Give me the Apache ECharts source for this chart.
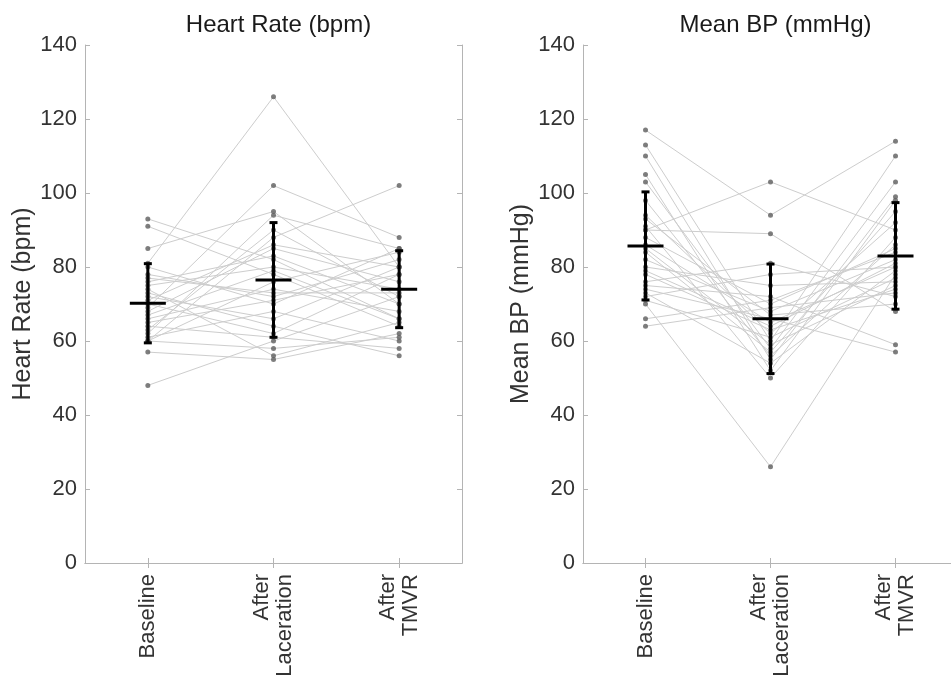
<!DOCTYPE html>
<html>
<head>
<meta charset="utf-8">
<script src="https://cdn.jsdelivr.net/npm/echarts@6/dist/echarts.min.js"></script>
<style>
html,body{margin:0;padding:0;background:#fff;overflow:hidden;}
#chart{width:980px;height:681px;}
</style>
</head>
<body>
<div id="chart"></div>
<script>
// ---- data ----
const categories = ['Baseline', 'After\nLaceration', 'After\nTMVR'];
const yTicks = [0, 20, 40, 60, 80, 100, 120, 140];

// Heart rate (bpm), one entry per subject
const hrBaseline   = [81, 69, 60, 93, 91, 85, 48, 57, 60, 62, 80, 78, 75, 72, 70, 68, 66, 64, 63, 61, 60, 73, 76, 65, 67, 74, 71, 77];
const hrLaceration = [126, 102, 88, 82, 78, 95, 60, 55, 58, 94, 70, 72, 80, 66, 62, 85, 74, 61, 90, 68, 76, 64, 83, 71, 79, 56, 86, 73];
const hrTMVR       = [80, 88, 102, 66, 64, 70, 72, 62, 61, 85, 85, 82, 74, 80, 78, 76, 68, 58, 72, 60, 84, 56, 70, 78, 66, 65, 80, 73];
const hrMean = [70.2, 76.5, 74.0];
const hrSD   = [10.7, 15.5, 10.4];

// Mean BP (mmHg), one entry per subject
const mbpBaseline   = [117, 90, 90, 70, 113, 110, 105, 103, 94, 91, 88, 86, 84, 82, 80, 78, 76, 75, 74, 73, 72, 71, 66, 64, 98, 93, 85, 79];
const mbpLaceration = [94, 103, 89, 26, 60, 55, 52, 58, 62, 50, 70, 65, 57, 68, 75, 63, 81, 72, 66, 54, 78, 61, 71, 69, 56, 67, 59, 64];
const mbpTMVR       = [114, 90, 68, 78, 110, 99, 98, 103, 92, 88, 85, 80, 95, 82, 76, 74, 72, 59, 57, 79, 80, 77, 84, 73, 86, 70, 75, 81];
const mbpMean = [85.7, 66.0, 83.0];
const mbpSD   = [14.6, 14.8, 14.4];

// ---- chart ----
const FONT = 'Liberation Sans, Arial, Helvetica, sans-serif';
const AXIS_COLOR = '#b4b4b4';
const TEXT_COLOR = '#333333';

const panels = [
  {title: 'Heart Rate (bpm)', yName: 'Heart Rate (bpm)', cols: [hrBaseline, hrLaceration, hrTMVR], mean: hrMean, sd: hrSD, left: 85, width: 377},
  {title: 'Mean BP (mmHg)',   yName: 'Mean BP (mmHg)',   cols: [mbpBaseline, mbpLaceration, mbpTMVR], mean: mbpMean, sd: mbpSD, left: 583, width: 375}
];

const grid = [], xAxis = [], yAxis = [], series = [], title = [];

panels.forEach((p, gi) => {
  grid.push({left: p.left, width: p.width, top: 45, height: 518, containLabel: false});
  title.push({
    text: p.title, left: p.left + p.width / 2, top: 8, textAlign: 'center',
    textStyle: {fontFamily: FONT, fontSize: 24, fontWeight: 'normal', color: '#1a1a1a'}
  });
  const xb = {
    type: 'category', gridIndex: gi, data: categories, boundaryGap: true, position: 'bottom',
    axisLine: {show: true, lineStyle: {color: AXIS_COLOR, width: 1}},
    axisTick: {show: true, inside: true, length: 5, alignWithLabel: true, lineStyle: {color: AXIS_COLOR}},
    axisLabel: {show: true, rotate: 90, margin: 11, fontFamily: FONT, fontSize: 22, color: TEXT_COLOR, lineHeight: 23, interval: 0},
    splitLine: {show: false}
  };
  const xt = Object.assign({}, xb, {position: 'top', axisLabel: {show: false}});
  xAxis.push(xb, xt);
  const yl = {
    type: 'value', gridIndex: gi, min: yTicks[0], max: yTicks[yTicks.length - 1], interval: 20, position: 'left',
    name: p.yName, nameLocation: 'middle', nameGap: 49, nameRotate: 90,
    nameTextStyle: {fontFamily: FONT, fontSize: 25, color: TEXT_COLOR},
    axisLine: {show: true, lineStyle: {color: AXIS_COLOR, width: 1}},
    axisTick: {show: true, inside: true, length: 5, lineStyle: {color: AXIS_COLOR}},
    axisLabel: {show: true, margin: 8, fontFamily: FONT, fontSize: 22, color: TEXT_COLOR},
    splitLine: {show: false}
  };
  const yr = Object.assign({}, yl, {position: 'right', name: '', axisLabel: {show: false}});
  yAxis.push(yl, yr);

  const xi = gi * 2, yi = gi * 2;
  const n = p.cols[0].length;
  for (let s = 0; s < n; s++) {
    series.push({
      type: 'line', xAxisIndex: xi, yAxisIndex: yi, silent: true, symbol: 'none',
      data: [p.cols[0][s], p.cols[1][s], p.cols[2][s]],
      lineStyle: {color: '#cdcdcd', width: 1}, z: 1, animation: false
    });
  }
  const pts = [];
  p.cols.forEach((col, ci) => col.forEach(v => pts.push([ci, v])));
  series.push({
    type: 'scatter', xAxisIndex: xi, yAxisIndex: yi, silent: true, symbol: 'circle', symbolSize: 5,
    itemStyle: {color: '#5e5e5e'}, data: pts, z: 2, animation: false
  });
  series.push({
    type: 'custom', xAxisIndex: xi, yAxisIndex: yi, silent: true, z: 3, animation: false,
    data: p.mean.map((m, ci) => [ci, m, p.sd[ci]]),
    renderItem: function (params, api) {
      const c = api.value(0), m = api.value(1), s = api.value(2);
      const top = api.coord([c, m + s]);
      const bot = api.coord([c, m - s]);
      const mid = api.coord([c, m]);
      const st = {stroke: '#000', lineWidth: 3};
      return {
        type: 'group',
        children: [
          {type: 'line', shape: {x1: top[0], y1: top[1], x2: bot[0], y2: bot[1]}, style: st},
          {type: 'line', shape: {x1: top[0] - 4, y1: top[1], x2: top[0] + 4, y2: top[1]}, style: st},
          {type: 'line', shape: {x1: bot[0] - 4, y1: bot[1], x2: bot[0] + 4, y2: bot[1]}, style: st},
          {type: 'line', shape: {x1: mid[0] - 18, y1: mid[1], x2: mid[0] + 18, y2: mid[1]}, style: st}
        ]
      };
    }
  });
});

const chart = echarts.init(document.getElementById('chart'), null, {renderer: 'canvas'});
chart.setOption({
  animation: false,
  backgroundColor: '#ffffff',
  title: title,
  grid: grid,
  xAxis: xAxis,
  yAxis: yAxis,
  series: series
});
</script>
</body>
</html>
